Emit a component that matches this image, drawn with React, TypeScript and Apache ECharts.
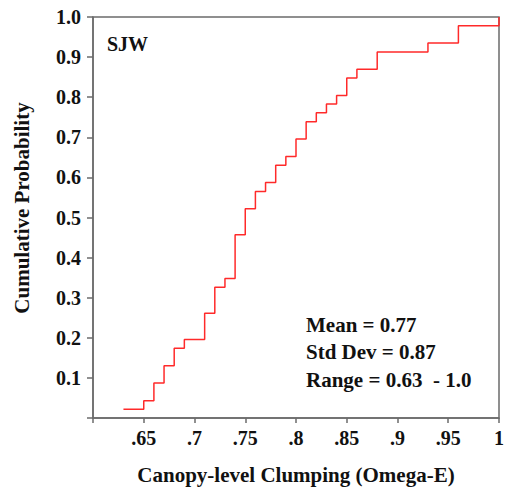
import React, { useEffect, useRef } from "react";
import * as echarts from "echarts";

const omegaE = [0.63, 0.65, 0.66, 0.67, 0.68, 0.69, 0.71, 0.72, 0.73, 0.74, 0.75, 0.76, 0.77, 0.78, 0.79, 0.80, 0.81, 0.82, 0.83, 0.84, 0.85, 0.86, 0.88, 0.93, 0.96, 1.0];
const cumProb = [0.022, 0.043, 0.087, 0.130, 0.174, 0.196, 0.261, 0.326, 0.348, 0.457, 0.522, 0.565, 0.587, 0.630, 0.652, 0.696, 0.739, 0.761, 0.783, 0.804, 0.848, 0.870, 0.913, 0.935, 0.978, 1.0];

const siteLabel = "SJW";
const statLines = ["Mean = 0.77", "Std Dev = 0.87", "Range = 0.63  - 1.0"];
const xTitle = "Canopy-level Clumping (Omega-E)";
const yTitle = "Cumulative Probability";

const FONT = "'Liberation Serif', 'Times New Roman', serif";
const AXIS_COLOR = "#6b6b6b";

export default function App() {
  const ref = useRef<HTMLDivElement>(null);
  useEffect(() => {
    if (!ref.current) return;
    const chart = echarts.init(ref.current, undefined, { renderer: "svg" });
    const data = omegaE.map((x, i) => [x, cumProb[i]]);
    chart.setOption({
      animation: false,
      backgroundColor: "#ffffff",
      grid: {
        left: 93,
        right: 6,
        top: 17,
        bottom: 67,
        show: true,
        borderColor: AXIS_COLOR,
        borderWidth: 1.5,
      },
      xAxis: {
        type: "value",
        min: 0.6,
        max: 1.0,
        interval: 0.05,
        name: xTitle,
        nameLocation: "middle",
        nameGap: 46,
        nameTextStyle: { fontFamily: FONT, fontWeight: "bold", fontSize: 21, color: "#111" },
        axisLine: { lineStyle: { color: AXIS_COLOR, width: 1.5 } },
        axisTick: { length: 5, lineStyle: { color: AXIS_COLOR, width: 1.5 } },
        splitLine: { show: false },
        axisLabel: {
          margin: 10,
          fontFamily: FONT,
          fontWeight: "bold",
          fontSize: 20,
          color: "#111",
          formatter: (v: number) => {
            const r = +v.toFixed(2);
            if (Math.abs(r - 0.6) < 1e-6) return "";
            return String(r).replace(/^0/, "");
          },
        },
      },
      yAxis: {
        type: "value",
        min: 0,
        max: 1,
        interval: 0.1,
        axisLine: { lineStyle: { color: AXIS_COLOR, width: 1.5 } },
        axisTick: { length: 6, lineStyle: { color: AXIS_COLOR, width: 1.5 } },
        splitLine: { show: false },
        axisLabel: {
          margin: 12,
          fontFamily: FONT,
          fontWeight: "bold",
          fontSize: 20,
          color: "#111",
          formatter: (v: number) => (Math.abs(v) < 1e-6 ? "" : v.toFixed(1)),
        },
      },
      graphic: [
        {
          type: "text",
          x: 22,
          y: 208,
          rotation: Math.PI / 2,
          style: {
            text: yTitle,
            fontFamily: FONT,
            fontWeight: "bold",
            fontSize: 21,
            fill: "#111",
            textAlign: "center",
            textVerticalAlign: "middle",
          },
        },
        {
          type: "text",
          left: 107,
          top: 34,
          style: { text: siteLabel, fontFamily: FONT, fontWeight: "bold", fontSize: 20, fill: "#111" },
        },
        ...statLines.map((t, i) => ({
          type: "text",
          left: 306,
          top: 314 + i * 27.5,
          style: { text: t, fontFamily: FONT, fontWeight: "bold", fontSize: 21, fill: "#111" },
        })),
      ],
      series: [
        {
          type: "line",
          step: "end",
          data,
          showSymbol: false,
          symbol: "none",
          lineStyle: { color: "#ff2a2a", width: 1.5 },
        },
      ],
    });
    return () => chart.dispose();
  }, []);
  return (
    <div
      ref={ref}
      style={{ position: "fixed", left: 0, top: 0, width: 507, height: 490, background: "#fff" }}
    />
  );
}
